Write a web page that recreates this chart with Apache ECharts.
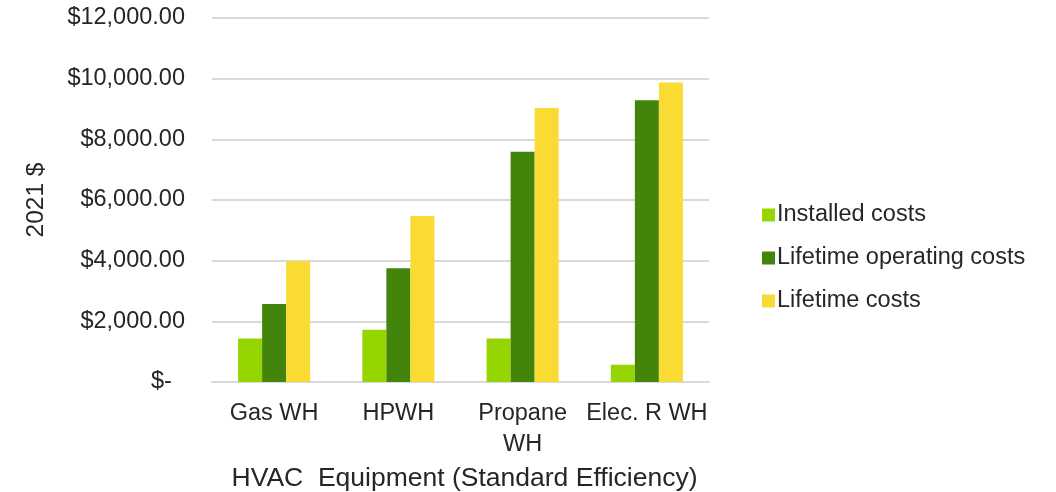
<!DOCTYPE html>
<html><head><meta charset="utf-8">
<script src="https://cdn.jsdelivr.net/npm/echarts@6/dist/echarts.min.js"></script>
<style>html,body{margin:0;padding:0;background:#fff}#c{width:1056px;height:492px}</style>
</head><body><div id="c"></div>
<script>
const categories = ['Gas WH', 'HPWH', 'Propane\nWH', 'Elec. R WH'];
const installedCosts = [1430, 1720, 1430, 570];
const operatingCosts = [2570, 3750, 7590, 9290];
const lifetimeCosts = [3990, 5470, 9030, 9870];
const seriesNames = ['Installed costs', 'Lifetime operating costs', 'Lifetime costs'];
const yTicks = [0, 2000, 4000, 6000, 8000, 10000, 12000];

const font = 'Liberation Sans, Arial, sans-serif';
const txt = '#262626';
const fs = 23.5;
const chart = echarts.init(document.getElementById('c'));
function fmt(v){
  if (v === 0) return '$-  ';
  return '$' + v.toLocaleString('en-US', {minimumFractionDigits:2, maximumFractionDigits:2});
}
const colors = ['#95D600', '#43840B', '#FADB33'];
chart.setOption({
  animation: false,
  grid: {left: 212, right: 347, top: 18, bottom: 110, outerBoundsMode: 'none'},
  legend: {
    orient: 'vertical', left: 757, top: 198, itemGap: 19,
    itemWidth: 13, itemHeight: 13, icon: 'rect',
    textStyle: {fontFamily: font, fontSize: fs, color: txt, padding: [0,0,0,-3]},
    data: seriesNames
  },
  xAxis: {
    type: 'category', data: categories,
    axisLine: {lineStyle: {color: '#D9D9D9', width: 2}},
    axisTick: {show: false},
    axisLabel: {fontFamily: font, fontSize: fs, color: txt, margin: 16, lineHeight: 31, interval: 0},
    name: 'HVAC  Equipment (Standard Efficiency)', nameLocation: 'middle', nameGap: 76,
    nameTextStyle: {fontFamily: font, fontSize: 26.5, color: txt, padding: [0, 0, 0, 8]}
  },
  yAxis: {
    type: 'value', min: 0, max: 12000, interval: 2000,
    axisLine: {show: false}, axisTick: {show: false},
    splitLine: {lineStyle: {color: '#D9D9D9', width: 2}},
    axisLabel: {fontFamily: font, fontSize: fs, color: txt, margin: 27,
      formatter: v => yTicks.includes(v) ? fmt(v) : ''},
    name: '2021 $', nameLocation: 'middle', nameGap: 163,
    nameTextStyle: {fontFamily: font, fontSize: 24.5, color: txt}
  },
  series: [
    {name: seriesNames[0], type: 'bar', data: installedCosts, itemStyle: {color: colors[0]}, barGap: '0%', barCategoryGap: '42%'},
    {name: seriesNames[1], type: 'bar', data: operatingCosts, itemStyle: {color: colors[1]}},
    {name: seriesNames[2], type: 'bar', data: lifetimeCosts, itemStyle: {color: colors[2]}}
  ]
});
</script></body></html>
